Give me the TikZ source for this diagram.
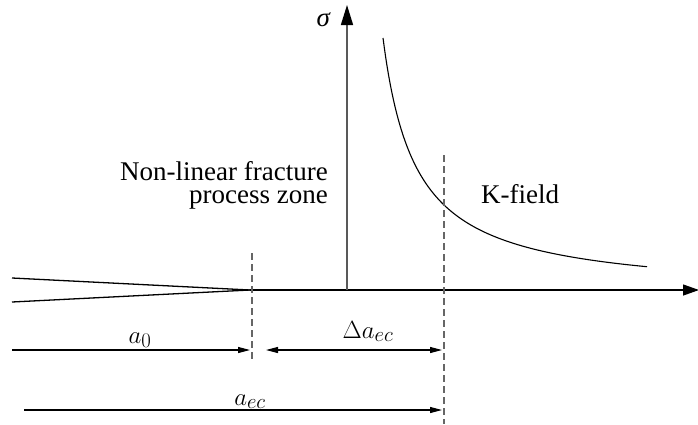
\documentclass[tikz,border=0pt]{standalone}
\usepackage{fontspec}
\setmainfont{Liberation Serif}
\newfontfamily\tms{Liberation Serif}
\usetikzlibrary{arrows.meta}
\begin{document}
\begin{tikzpicture}[x=1pt,y=-1pt,
  axisline/.style={line width=1.3pt},
  vaxis/.style={line width=1.5pt, draw=black!65},
  guide/.style={line width=1.5pt, draw=black!60, dash pattern=on 7pt off 4pt},
  dimline/.style={line width=1.1pt, -{Triangle[length=12pt,width=6pt]}},
  lbl/.style={inner sep=0pt, font=\tms\fontsize{27pt}{23pt}\selectfont},
  mlbl/.style={inner sep=0pt, font=\fontsize{31pt}{31pt}\selectfont}]
\useasboundingbox (0,0) rectangle (698,424);
% coordinates
\coordinate (cu) at (12,278);
\coordinate (cl) at (12,302);
\coordinate (tip) at (250,290);
\coordinate (xend) at (699,290);
\coordinate (origin) at (347,290);
\coordinate (yend) at (347,5);
\coordinate (d1t) at (252,253);
\coordinate (d1b) at (252,362);
\coordinate (d2t) at (444,155);
\coordinate (d2b) at (444,424);
\coordinate (a0s) at (12,350);
\coordinate (a0e) at (250,350);
\coordinate (das) at (266,350);
\coordinate (dae) at (442,350);
\coordinate (aecs) at (24,410);
\coordinate (aece) at (442,410);
% crack
\draw[axisline] (cu) -- (tip);
\draw[axisline] (cl) -- (tip);
% axes
\draw[axisline, -{Triangle[length=16pt,width=11pt]}] (tip) -- (xend);
\draw[vaxis, -{Triangle[length=20pt,width=12pt,color=black]}] (origin) -- (yend);
% stress curve
\draw[line width=1.1pt] plot[domain=383:647, samples=120, smooth] (\x, {290 - (-5.3 + 8492/(\x-350))});
% dashed guides
\draw[guide] (d1t) -- (d1b);
\draw[guide] (d2t) -- (d2b);
% dimension arrows
\draw[dimline] (a0s) -- (a0e);
\draw[dimline, {Triangle[length=12pt,width=6pt]}-{Triangle[length=12pt,width=6pt]}] (das) -- (dae);
\draw[dimline] (aecs) -- (aece);
% labels
\node[lbl, anchor=base east] (sig) at (331,26) {\textit{σ}};
\node[lbl, anchor=base east, align=right] (nl) at (328,203) {Non-linear fracture\\process zone};
\node[lbl, anchor=base west] (kf) at (481,203) {K-field};
\node[mlbl, anchor=base] (la0) at (140,343) {$a_0$};
\node[mlbl, anchor=base] (lda) at (368,338) {$\Delta a_{ec}$};
\node[mlbl, anchor=base] (laec) at (250,405) {$a_{ec}$};
\end{tikzpicture}
\end{document}
